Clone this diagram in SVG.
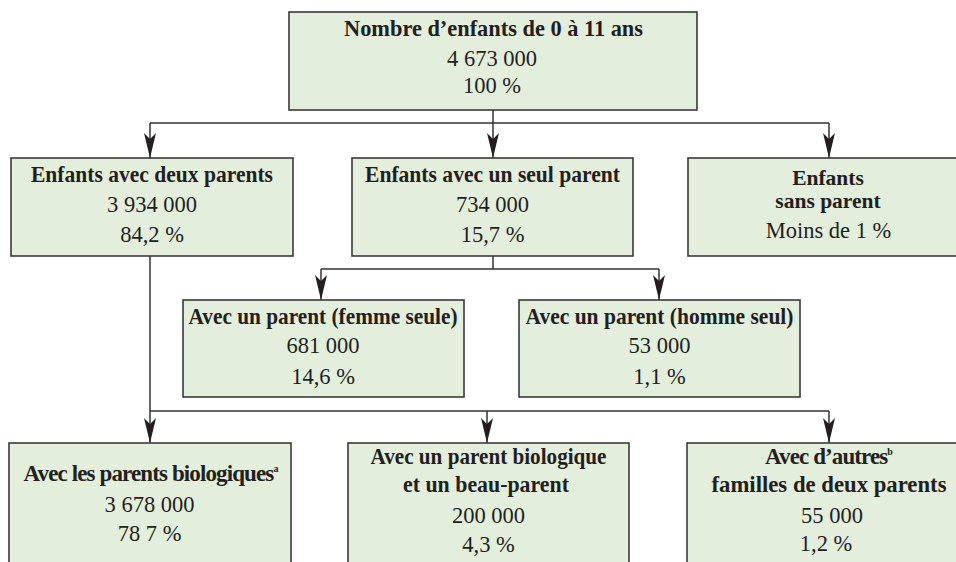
<svg xmlns="http://www.w3.org/2000/svg" width="956" height="562" viewBox="0 0 956 562">
<defs>
<style>
.box{fill:#e3eedc;stroke:#3a3a3a;stroke-width:1.6}
.b{font-family:"Liberation Serif","Times New Roman",serif;font-weight:bold;font-size:23px;fill:#231f20;text-anchor:middle}
.r{font-family:"Liberation Serif","Times New Roman",serif;font-size:22.5px;fill:#231f20;text-anchor:middle}
.sup{font-size:10px;letter-spacing:0}
.ln{fill:none;stroke:#333;stroke-width:1.5}
.arr{fill:none;stroke:#333;stroke-width:1.5;marker-end:url(#ah)}
</style>
<marker id="ah" viewBox="0 0 25 12" refX="25" refY="6" markerWidth="25" markerHeight="12" markerUnits="userSpaceOnUse" orient="auto">
<path d="M0,0 L25,6 L0,12 L6,6 Z" fill="#231f20"/>
</marker>
</defs>
<rect width="956" height="562" fill="#ffffff"/>

<g id="connectors">
<line class="ln" x1="493" y1="110" x2="493" y2="123"/>
<line class="ln" x1="150" y1="123" x2="829" y2="123"/>
<path class="arr" d="M150,123 V158"/>
<path class="arr" d="M493,123 V158"/>
<path class="arr" d="M829,123 V158"/>
<line class="ln" x1="493" y1="256" x2="493" y2="269"/>
<line class="ln" x1="321" y1="269" x2="659" y2="269"/>
<path class="arr" d="M321,269 V300"/>
<path class="arr" d="M659,269 V300"/>
<line class="ln" x1="150" y1="256" x2="150" y2="411"/>
<line class="ln" x1="150" y1="411" x2="829" y2="411"/>
<path class="arr" d="M150,411 V443"/>
<path class="arr" d="M487,411 V443"/>
<path class="arr" d="M829,411 V443"/>
</g>

<g id="total">
<rect class="box" x="289" y="12" width="408" height="98"/>
<text class="b" x="493.5" y="36" textLength="299" lengthAdjust="spacingAndGlyphs">Nombre d’enfants de 0 à 11 ans</text>
<text class="r" x="492" y="66">4 673 000</text>
<text class="r" x="492" y="93">100 %</text>
</g>

<g id="deux-parents">
<rect class="box" x="11" y="158" width="282" height="98"/>
<text class="b" x="152" y="182" textLength="242" lengthAdjust="spacingAndGlyphs">Enfants avec deux parents</text>
<text class="r" x="152" y="212">3 934 000</text>
<text class="r" x="152" y="242">84,2 %</text>
</g>

<g id="seul-parent">
<rect class="box" x="352" y="158" width="281" height="98"/>
<text class="b" x="492.5" y="182" textLength="255" lengthAdjust="spacingAndGlyphs">Enfants avec un seul parent</text>
<text class="r" x="492.5" y="212">734 000</text>
<text class="r" x="492.5" y="242">15,7 %</text>
</g>

<g id="sans-parent">
<rect class="box" x="688" y="158" width="275" height="98"/>
<text class="b" style="font-size:21.5px"><tspan x="828" y="185">Enfants</tspan><tspan x="828" y="208">sans parent</tspan></text>
<text class="r" x="828.5" y="238">Moins de 1 %</text>
</g>

<g id="femme-seule">
<rect class="box" x="183" y="300" width="281" height="97"/>
<text class="b" x="323" y="324" textLength="269" lengthAdjust="spacingAndGlyphs">Avec un parent (femme seule)</text>
<text class="r" x="323" y="353">681 000</text>
<text class="r" x="323" y="384">14,6 %</text>
</g>

<g id="homme-seul">
<rect class="box" x="519" y="300" width="281" height="97"/>
<text class="b" x="659.5" y="324" textLength="268" lengthAdjust="spacingAndGlyphs">Avec un parent (homme seul)</text>
<text class="r" x="659.5" y="353">53 000</text>
<text class="r" x="659.5" y="384">1,1 %</text>
</g>

<g id="biologiques">
<rect class="box" x="9" y="443" width="282" height="130"/>
<text class="b" x="151" y="481" letter-spacing="-0.88">Avec les parents biologiques<tspan class="sup" dy="-9">a</tspan></text>
<text class="r" x="149.5" y="512">3 678 000</text>
<text class="r" x="149.5" y="541">78 7 %</text>
</g>

<g id="beau-parent">
<rect class="box" x="348" y="443" width="281" height="130"/>
<text class="b" x="488.5" y="464" textLength="236" lengthAdjust="spacingAndGlyphs">Avec un parent biologique</text>
<text class="b" x="486" y="492" textLength="166" lengthAdjust="spacingAndGlyphs">et un beau-parent</text>
<text class="r" x="488.5" y="523">200 000</text>
<text class="r" x="488.5" y="552">4,3 %</text>
</g>

<g id="autres">
<rect class="box" x="687" y="443" width="276" height="130"/>
<text class="b" x="829" y="464" letter-spacing="-0.9">Avec d’autres<tspan class="sup" dy="-9">b</tspan></text>
<text class="b" x="829" y="492" textLength="235" lengthAdjust="spacingAndGlyphs">familles de deux parents</text>
<text class="r" x="832" y="523">55 000</text>
<text class="r" x="826" y="551">1,2 %</text>
</g>
</svg>
